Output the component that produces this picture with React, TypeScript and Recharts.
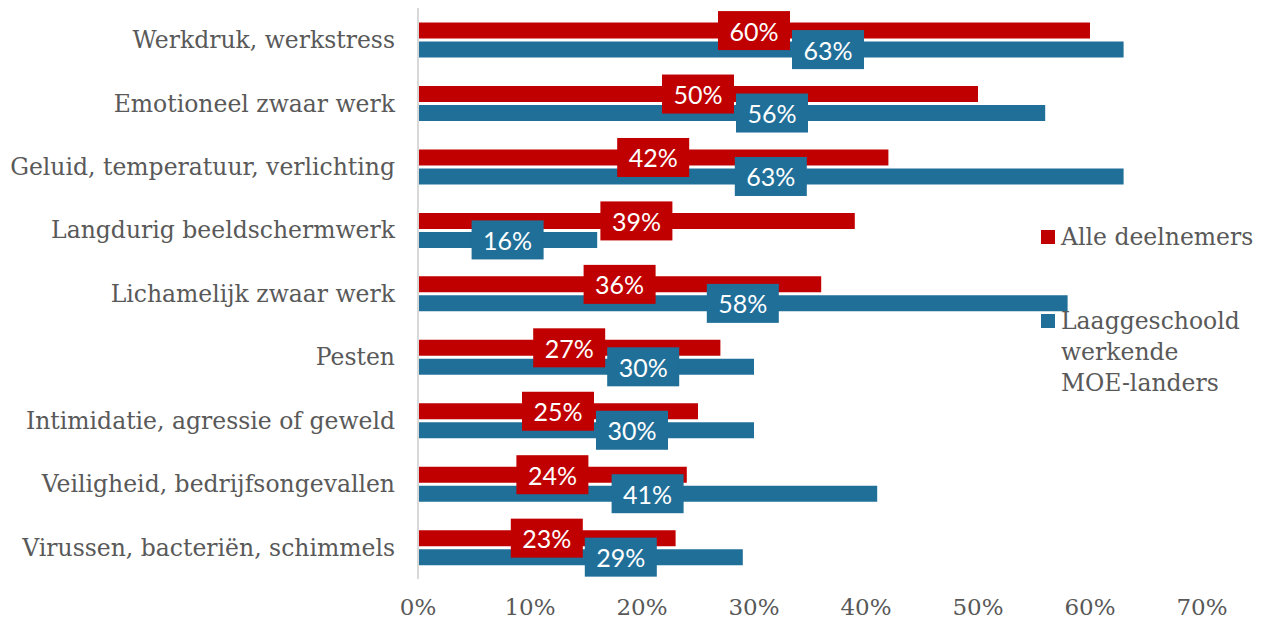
import { BarChart, Bar, XAxis, YAxis, LabelList } from "recharts";

const categories = [
  "Werkdruk, werkstress",
  "Emotioneel zwaar werk",
  "Geluid, temperatuur, verlichting",
  "Langdurig beeldschermwerk",
  "Lichamelijk zwaar werk",
  "Pesten",
  "Intimidatie, agressie of geweld",
  "Veiligheid, bedrijfsongevallen",
  "Virussen, bacteriën, schimmels",
];
const alleDeelnemers = [60, 50, 42, 39, 36, 27, 25, 24, 23];
const laaggeschoold = [63, 56, 63, 16, 58, 30, 30, 41, 29];
const xTicks = [0, 10, 20, 30, 40, 50, 60, 70];

const RED = "#C00000";
const BLUE = "#1F6F99";
const GREY = "#595959";
const SERIF = "'DejaVu Serif', serif";
const BAR_GAP = 3;
const BOX_W = 72;
const BOX_H = 39;

const data = categories.map((name, i) => ({
  name,
  alle: alleDeelnemers[i],
  laag: laaggeschoold[i],
}));

function LabelBox({ cx, cy, fill, text }: { cx: number; cy: number; fill: string; text: string }) {
  return (
    <g>
      <rect x={cx - BOX_W / 2} y={cy - BOX_H / 2} width={BOX_W} height={BOX_H} fill={fill} />
      <text
        x={cx}
        y={cy}
        textAnchor="middle"
        dominantBaseline="central"
        fill="#fff"
        fontFamily="Lato, sans-serif"
        fontSize={25}
      >
        {text}
      </text>
    </g>
  );
}

// both labels are drawn from the second series so they sit on top of all bars
function PairLabels(props: any) {
  const vb = props.viewBox && props.viewBox.width !== undefined ? props.viewBox : props;
  const { x, y, width, height } = vb;
  const i = props.index;
  if (x === undefined || i === undefined) return null;
  const ppu = width / laaggeschoold[i];
  const redCx = x + (alleDeelnemers[i] * ppu) / 2;
  let blueCx = x + width / 2;
  const diff = blueCx - redCx;
  if (Math.abs(diff) < BOX_W + 2) {
    blueCx = diff >= 0 ? redCx + BOX_W + 2 : redCx - BOX_W - 2;
  }
  const blueCy = y + height / 2;
  const redCy = blueCy - height - BAR_GAP;
  return (
    <g>
      <LabelBox cx={redCx} cy={redCy} fill={RED} text={`${alleDeelnemers[i]}%`} />
      <LabelBox cx={blueCx} cy={blueCy} fill={BLUE} text={`${laaggeschoold[i]}%`} />
    </g>
  );
}

function LegendBox() {
  const item = (color: string, lines: string[]) => (
    <div style={{ display: "flex", alignItems: "flex-start" }}>
      <div style={{ width: 14, height: 14, background: color, marginTop: 8, marginRight: 6, flexShrink: 0 }} />
      <div style={{ fontFamily: SERIF, fontSize: 23.5, color: GREY, lineHeight: "31px" }}>
        {lines.map((l) => (
          <div key={l}>{l}</div>
        ))}
      </div>
    </div>
  );
  return (
    <div style={{ position: "absolute", left: 1033, top: 214, width: 226 }}>
      {item(RED, ["Alle deelnemers"])}
      <div style={{ height: 53 }} />
      {item(BLUE, ["Laaggeschoold", "werkende", "MOE-landers"])}
    </div>
  );
}

export default function App() {
  return (
    <div style={{ position: "relative", width: 1259, height: 614 }}>
      <BarChart
        width={1259}
        height={614}
        data={data}
        layout="vertical"
        margin={{ top: 0, right: 65, bottom: 3, left: 0 }}
        barCategoryGap="23%"
        barGap={BAR_GAP}
      >
        <XAxis
          type="number"
          domain={[0, 70]}
          ticks={xTicks}
          tickFormatter={(v) => `${v}%`}
          axisLine={false}
          tickLine={false}
          height={40}
          tickMargin={14}
          tick={{ fill: GREY, fontSize: 23, fontFamily: SERIF }}
        />
        <YAxis
          type="category"
          dataKey="name"
          width={410}
          axisLine={{ stroke: "#D9D9D9", strokeWidth: 2 }}
          tickLine={false}
          tickMargin={17}
          tick={{ fill: GREY, fontSize: 23.5, fontFamily: SERIF }}
          interval={0}
        />
        <Bar dataKey="alle" name="Alle deelnemers" fill={RED} isAnimationActive={false} />
        <Bar dataKey="laag" name="Laaggeschoold werkende MOE-landers" fill={BLUE} isAnimationActive={false}>
          <LabelList dataKey="laag" content={PairLabels} />
        </Bar>
      </BarChart>
      <LegendBox />
    </div>
  );
}
